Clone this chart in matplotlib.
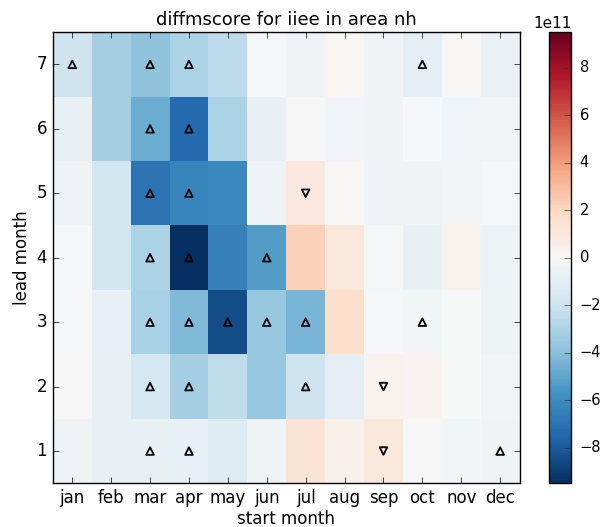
import numpy as np
import matplotlib
matplotlib.use("Agg")
import matplotlib.pyplot as plt

plt.style.use("classic")
plt.rcParams["figure.facecolor"] = "white"
plt.rcParams["savefig.facecolor"] = "white"
plt.rcParams["xtick.major.pad"] = 4
plt.rcParams["ytick.major.pad"] = 4

months = ["jan", "feb", "mar", "apr", "may", "jun", "jul", "aug", "sep", "oct", "nov", "dec"]
leads = [1, 2, 3, 4, 5, 6, 7]

# values in units of 1e11, rows = lead month 1..7, cols = jan..dec
lead1 = [-0.4, -0.7, -0.7, -0.8, -1.3, -0.4, 1.3, 0.5, 1.1, 0.05, -0.25, -0.4]
lead2 = [0.0, -0.7, -1.7, -3.2, -2.4, -3.6, -2.0, -1.0, 0.3, 0.25, -0.05, -0.3]
lead3 = [-0.1, -0.8, -3.1, -4.2, -8.5, -3.6, -4.4, 1.7, -0.1, -0.25, -0.05, -0.5]
lead4 = [-0.1, -1.8, -3.0, -9.5, -6.4, -5.3, 2.3, 1.1, -0.2, -0.7, 0.3, -0.5]
lead5 = [-0.4, -1.8, -7.0, -6.3, -6.1, -0.4, 1.0, 0.1, -0.4, -0.4, -0.3, -0.2]
lead6 = [-0.7, -3.2, -4.7, -7.4, -3.0, -0.7, 0.05, -0.3, -0.4, -0.1, -0.3, -0.3]
lead7 = [-2.0, -3.2, -3.8, -3.0, -2.5, -0.2, -0.4, 0.2, -0.4, -0.9, 0.1, -0.6]

# significance markers: (start month index 1..12, lead)
up_x = [1, 3, 4, 10, 3, 4, 3, 4, 3, 4, 6, 3, 4, 5, 6, 7, 10, 3, 4, 7, 3, 4, 12]
up_y = [7, 7, 7, 7, 6, 6, 5, 5, 4, 4, 4, 3, 3, 3, 3, 3, 3, 2, 2, 2, 1, 1, 1]
down_x = [7, 9, 9]
down_y = [5, 2, 1]

scale = 1e11
vlim = 9.5e11

data = np.array([lead1, lead2, lead3, lead4, lead5, lead6, lead7]) * scale

fig = plt.figure(figsize=(6.0, 5.27), dpi=100)
ax = fig.add_axes([0.088, 0.083, 0.778, 0.856])
cax = fig.add_axes([0.915, 0.083, 0.037, 0.856])

x_edges = np.arange(0.5, len(months) + 1, 1.0)
y_edges = np.arange(0.5, len(leads) + 1, 1.0)
mesh = ax.pcolormesh(x_edges, y_edges, data, cmap="RdBu_r", vmin=-vlim, vmax=vlim)

ax.scatter(up_x, up_y, marker="^", s=30, facecolors="none", edgecolors="black", linewidths=1.3, zorder=3)
ax.scatter(down_x, down_y, marker="v", s=30, facecolors="none", edgecolors="black", linewidths=1.3, zorder=3)

ax.set_xlim(0.5, 12.5)
ax.set_ylim(0.5, 7.5)
ax.set_xticks(np.arange(1, 13))
ax.set_xticklabels(months)
ax.set_yticks(leads)
ax.set_xlabel("start month", labelpad=2)
ax.set_ylabel("lead month", labelpad=4)
ax.set_title("diffmscore for iiee in area nh", fontsize=13)

cb = fig.colorbar(mesh, cax=cax)
cb.set_ticks(np.arange(-8, 9, 2) * 1e11)
cb.ax.tick_params(direction="in", length=5, pad=6, labelsize=10.5, color="#333333")
cb.ax.yaxis.get_offset_text().set_fontsize(11)

fig.savefig("out.png", dpi=100)
